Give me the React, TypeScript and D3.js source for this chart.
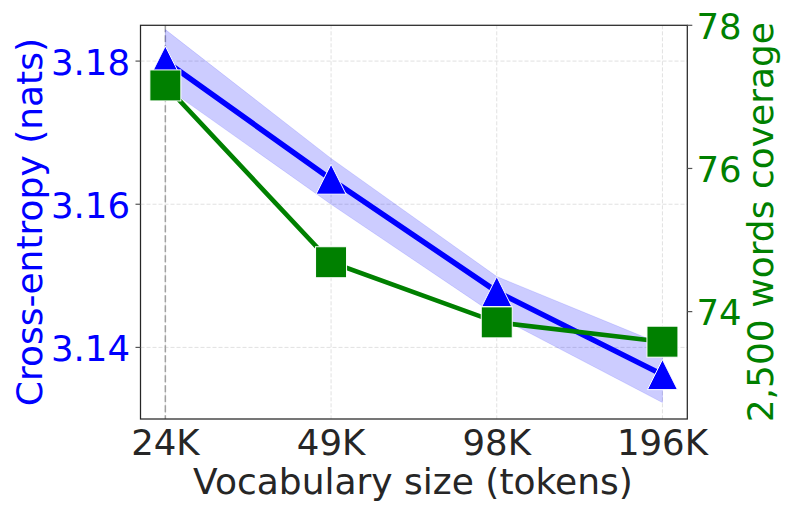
import React from "react";
import * as d3 from "d3";

const vocabLabels = ["24K", "49K", "98K", "196K"];
const crossEntropy = [3.18, 3.1635, 3.1478, 3.1362];
const ceHigh = [3.1844, 3.1664, 3.1499, 3.1404];
const ceLow = [3.1764, 3.1600, 3.1444, 3.1323];
const coverage = [77.16, 74.69, 73.85, 73.58];
const leftTicks = [3.14, 3.16, 3.18];
const rightTicks = [74, 76, 78];

const W = 793;
const H = 515;
const L = 140.5;
const R = 687.3;
const T = 25.3;
const B = 419;
const FONT = "DejaVu Sans";
const BLUE = "#0000ff";
const GREEN = "#008000";

export default function App() {
  const idx = vocabLabels.map((_, i) => i);
  const x = d3.scaleLinear().domain([-0.15, 3.15]).range([L, R]);
  const yL = d3.scaleLinear().domain([3.13, 3.185]).range([B, T]);
  const yR = d3.scaleLinear().domain([72.5, 78]).range([B, T]);

  const area = d3
    .area<number>()
    .x((i) => x(i))
    .y0((i) => yL(ceLow[i]))
    .y1((i) => yL(ceHigh[i]));
  const blueLine = d3
    .line<number>()
    .x((i) => x(i))
    .y((i) => yL(crossEntropy[i]));
  const greenLine = d3
    .line<number>()
    .x((i) => x(i))
    .y((i) => yR(coverage[i]));

  const tri = (cx: number, cy: number, s: number) =>
    `M${cx},${cy - s / 2}L${cx - s / 2},${cy + s / 2}L${cx + s / 2},${cy + s / 2}Z`;
  const sq = 31;

  return (
    <div style={{ position: "fixed", left: 0, top: 0 }}>
      <svg width={W} height={H} style={{ display: "block", background: "#fff" }}>
        <rect x={0} y={0} width={W} height={H} fill="#fff" />
        <defs>
          <clipPath id="plotclip">
            <rect x={L} y={T} width={R - L} height={B - T} />
          </clipPath>
        </defs>
        {/* grid */}
        {idx.map((i) => (
          <line
            key={"gx" + i}
            x1={x(i)}
            x2={x(i)}
            y1={T}
            y2={B}
            stroke="#dedede"
            strokeWidth={0.9}
            strokeDasharray="4,2"
          />
        ))}
        {leftTicks.map((t) => (
          <line
            key={"gy" + t}
            x1={L}
            x2={R}
            y1={yL(t)}
            y2={yL(t)}
            stroke="#dedede"
            strokeWidth={0.9}
            strokeDasharray="4,2"
          />
        ))}
        {/* reference line */}
        <line
          x1={x(0)}
          x2={x(0)}
          y1={T}
          y2={B}
          stroke="#a0a0a0"
          strokeWidth={1.5}
          strokeDasharray="7,3"
        />
        <g clipPath="url(#plotclip)">
          <path
            d={area(idx) || ""}
            fill="rgba(0,0,255,0.2)"
            stroke="rgba(0,0,255,0.12)"
            strokeWidth={1}
          />
          <path d={blueLine(idx) || ""} fill="none" stroke={BLUE} strokeWidth={5.5} />
        </g>
        {idx.map((i) => (
          <path
            key={"t" + i}
            d={tri(x(i), yL(crossEntropy[i]), 30)}
            fill={BLUE}
            stroke="#fff"
            strokeWidth={1}
          />
        ))}
        <path d={greenLine(idx) || ""} fill="none" stroke={GREEN} strokeWidth={4.6} />
        {idx.map((i) => (
          <rect
            key={"s" + i}
            x={x(i) - sq / 2}
            y={yR(coverage[i]) - sq / 2}
            width={sq}
            height={sq}
            fill={GREEN}
            stroke="#fff"
            strokeWidth={1}
          />
        ))}
        {/* spines */}
        <rect x={L} y={T} width={R - L} height={B - T} fill="none" stroke="#262626" strokeWidth={1.25} />
        {/* left ticks */}
        {leftTicks.map((t) => (
          <g key={"lt" + t}>
            <line x1={L - 5} x2={L} y1={yL(t)} y2={yL(t)} stroke="#555" strokeWidth={1.2} />
            <text
              x={130}
              y={yL(t)}
              dy="0.38em"
              textAnchor="end"
              fontFamily={FONT}
              fontSize={35.5}
              fill={BLUE}
            >
              {t.toFixed(2)}
            </text>
          </g>
        ))}
        {/* right ticks */}
        {rightTicks.map((t) => (
          <g key={"rt" + t}>
            <line x1={R} x2={R + 5} y1={yR(t)} y2={yR(t)} stroke="#555" strokeWidth={1.2} />
            <text
              x={696.5}
              y={yR(t)}
              dy="0.38em"
              textAnchor="start"
              fontFamily={FONT}
              fontSize={35.5}
              fill={GREEN}
            >
              {t}
            </text>
          </g>
        ))}
        {/* x tick labels */}
        {idx.map((i) => (
          <text
            key={"xl" + i}
            x={x(i)}
            y={455}
            textAnchor="middle"
            fontFamily={FONT}
            fontSize={35.5}
            fill="#262626"
          >
            {vocabLabels[i]}
          </text>
        ))}
        {/* axis labels */}
        <text
          x={413}
          y={494}
          textAnchor="middle"
          fontFamily={FONT}
          fontSize={36}
          fill="#262626"
        >
          Vocabulary size (tokens)
        </text>
        <text
          transform={`translate(41.5,${(T + B) / 2}) rotate(-90)`}
          textAnchor="middle"
          fontFamily={FONT}
          fontSize={36}
          fill={BLUE}
        >
          Cross-entropy (nats)
        </text>
        <text
          transform={`translate(773,${(T + B) / 2}) rotate(-90)`}
          textAnchor="middle"
          fontFamily={FONT}
          fontSize={36}
          fill={GREEN}
        >
          2,500 words coverage
        </text>
      </svg>
    </div>
  );
}
